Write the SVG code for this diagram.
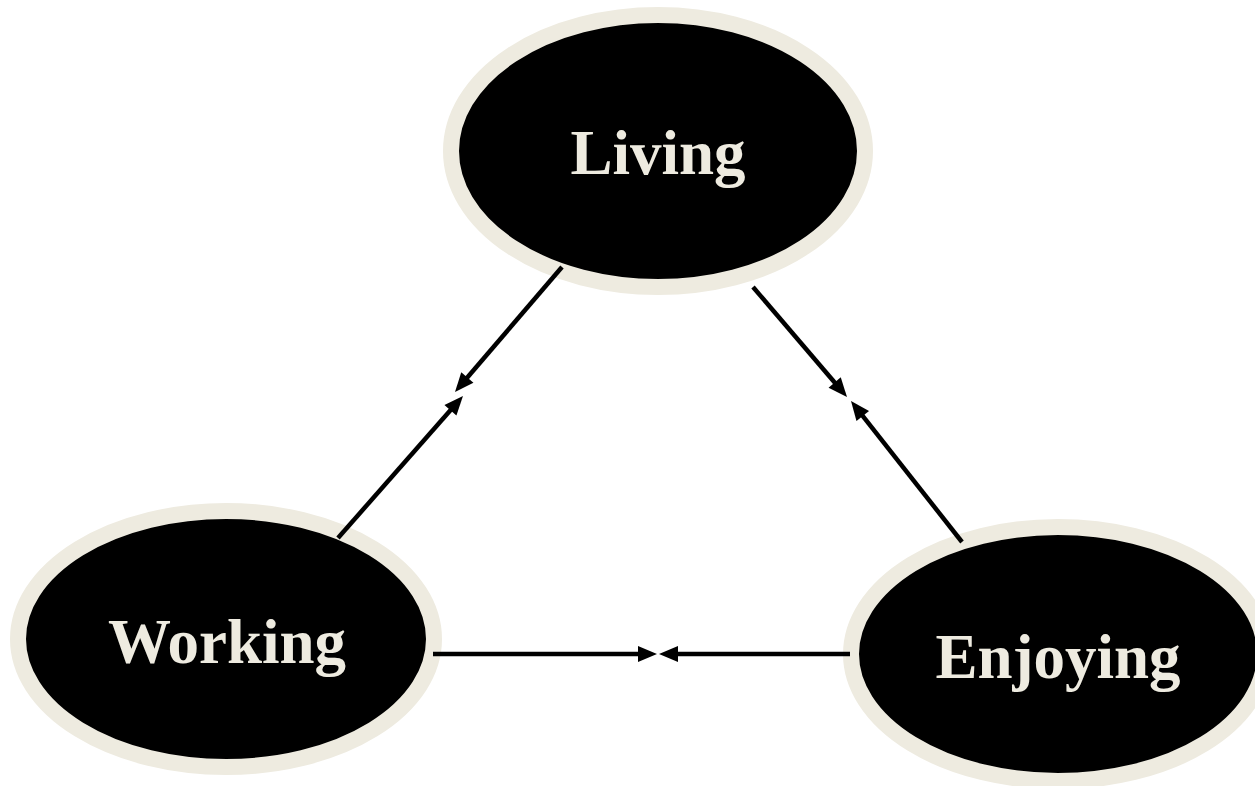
<svg xmlns="http://www.w3.org/2000/svg" width="1255" height="786" viewBox="0 0 1255 786">
<style>
.node ellipse{fill:#000;stroke:#EEEBE0;stroke-width:16}
.node text{font-family:"Liberation Serif","Times New Roman",serif;font-weight:bold;font-size:63px;fill:#EEEBE0;text-anchor:middle}
.conn line{stroke:#000;stroke-width:4.5;fill:none;marker-end:url(#arr)}
</style>
<defs>
<marker id="arr" markerUnits="userSpaceOnUse" markerWidth="19" markerHeight="16" refX="3" refY="8" orient="auto" overflow="visible">
<path d="M0,0 L19,8 L0,16 z" fill="#000"/>
</marker>
</defs>
<rect width="1255" height="786" fill="#fff"/>
<g id="living" class="node">
<ellipse cx="658" cy="151" rx="207" ry="136"/>
<text x="658" y="174">Living</text>
</g>
<g id="working" class="node">
<ellipse cx="226" cy="639" rx="208" ry="128"/>
<text x="227" y="663">Working</text>
</g>
<g id="enjoying" class="node">
<ellipse cx="1058" cy="654" rx="207" ry="127"/>
<text x="1058" y="678">Enjoying</text>
</g>
<g id="connectors" class="conn">
<line x1="562" y1="267" x2="465.4" y2="379.8"/>
<line x1="338" y1="538" x2="452.4" y2="408"/>
<line x1="753" y1="287" x2="836.6" y2="384.8"/>
<line x1="962" y1="542" x2="860.9" y2="413.6"/>
<line x1="433" y1="654" x2="641" y2="654"/>
<line x1="850" y1="654" x2="675" y2="654"/>
</g>
</svg>
